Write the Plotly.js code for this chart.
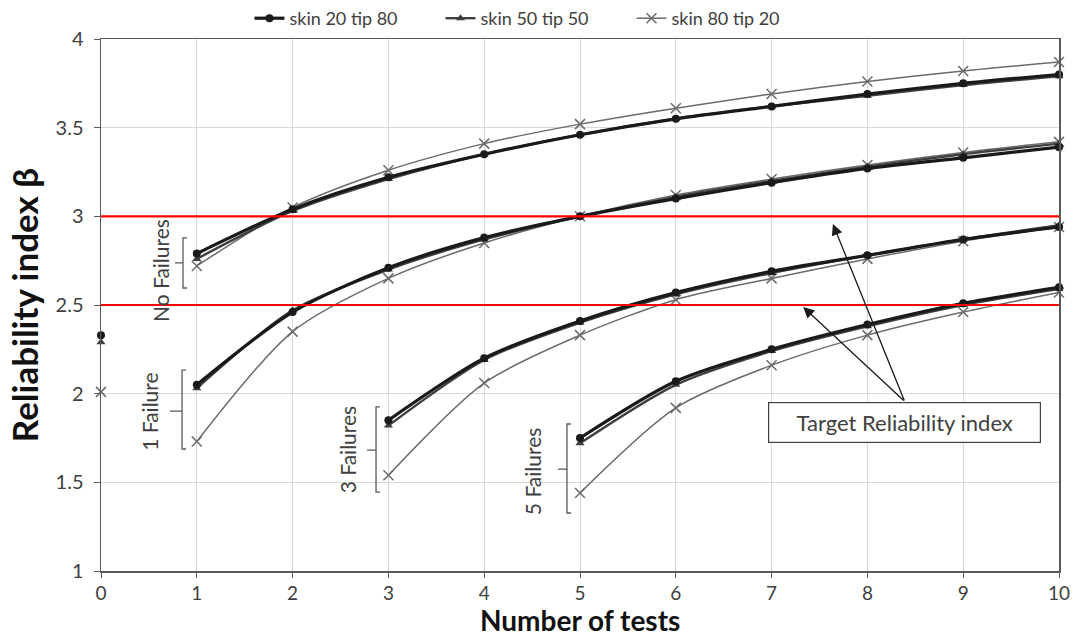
<!DOCTYPE html>
<html>
<head>
<meta charset="utf-8">
<script src="https://cdn.plot.ly/plotly-3.0.1.min.js"></script>
<style>html,body{margin:0;padding:0;background:#fff;}#chart{width:1081px;height:640px;}</style>
</head>
<body>
<div id="chart"></div>
<script>
// ---- data ----
const seriesNames = ["skin 20 tip 80", "skin 50 tip 50", "skin 80 tip 20"];
const xZero = [0];
const xNoFail = [1,2,3,4,5,6,7,8,9,10];
const x1Fail = [1,2,3,4,5,6,7,8,9,10];
const x3Fail = [3,4,5,6,7,8,9,10];
const x5Fail = [5,6,7,8,9,10];
const xTicks = [0,1,2,3,4,5,6,7,8,9,10];
const yTicks = [1,1.5,2,2.5,3,3.5,4];
const targetLevels = [2.5, 3.0];

// skin 20 tip 80
const s20_zero = [2.33];
const s20_noFail = [2.79,3.04,3.22,3.35,3.46,3.55,3.62,3.69,3.75,3.80];
const s20_1Fail = [2.05,2.46,2.71,2.88,3.00,3.10,3.19,3.27,3.33,3.39];
const s20_3Fail = [1.85,2.20,2.41,2.57,2.69,2.78,2.87,2.94];
const s20_5Fail = [1.75,2.07,2.25,2.39,2.51,2.60];
// skin 50 tip 50
const s50_zero = [2.29];
const s50_noFail = [2.76,3.03,3.21,3.35,3.46,3.55,3.62,3.68,3.74,3.79];
const s50_1Fail = [2.03,2.47,2.70,2.87,3.00,3.11,3.20,3.28,3.35,3.41];
const s50_3Fail = [1.82,2.19,2.40,2.56,2.68,2.78,2.87,2.95];
const s50_5Fail = [1.72,2.05,2.24,2.38,2.50,2.59];
// skin 80 tip 20
const s80_zero = [2.01];
const s80_noFail = [2.72,3.05,3.26,3.41,3.52,3.61,3.69,3.76,3.82,3.87];
const s80_1Fail = [1.73,2.35,2.65,2.85,3.00,3.12,3.21,3.29,3.36,3.42];
const s80_3Fail = [1.54,2.06,2.33,2.53,2.65,2.76,2.86,2.94];
const s80_5Fail = [1.44,1.92,2.16,2.33,2.46,2.57];

function join(groups){ const out=[]; groups.forEach((g,i)=>{ if(i>0) out.push(null); out.push(...g); }); return out; }
const xAll = join([xZero, xNoFail, x1Fail, x3Fail, x5Fail]);

const FONT = "Lato, 'Open Sans', 'Liberation Sans', sans-serif";

const styles = [
  {color:"#1a1a1a", width:3.2, symbol:"circle", size:8, mline:0},
  {color:"#3f3f3f", width:2.4, symbol:"triangle-up", size:8, mline:0},
  {color:"#6b6b6b", width:1.5, symbol:"x-thin-open", size:10, mline:1.5}
];
const ys = [
  join([s20_zero, s20_noFail, s20_1Fail, s20_3Fail, s20_5Fail]),
  join([s50_zero, s50_noFail, s50_1Fail, s50_3Fail, s50_5Fail]),
  join([s80_zero, s80_noFail, s80_1Fail, s80_3Fail, s80_5Fail])
];

const traces = [];
[2,1,0].forEach(i=>{
  const st = styles[i];
  traces.push({
    type:"scatter", mode:"lines+markers", name:seriesNames[i],
    x:xAll, y:ys[i], connectgaps:false, legendrank:i+1, cliponaxis:false,
    line:{color:st.color, width:st.width, shape:"spline", smoothing:0.8},
    marker:{symbol:st.symbol, size:st.size, color:st.color, line:{color:st.color, width:st.mline}},
    hoverinfo:"x+y"
  });
});

const shapes = targetLevels.map(v=>({type:"line", xref:"paper", x0:0, x1:1, yref:"y", y0:v, y1:v, line:{color:"#ff0000", width:2.2}, layer:"above"}));

// bracket shapes [x, top, bottom, mid, serifX, tickX]
const brackets = [
  [0.856, 2.878, 2.596, 2.737, 0.898, 0.772],
  [0.846, 2.133, 1.688, 1.902, 0.887, 0.720],
  [2.871, 1.925, 1.445, 1.682, 2.912, 2.777],
  [4.864, 1.829, 1.327, 1.575, 4.906, 4.770]
];
brackets.forEach(b=>{
  shapes.push({type:"path", xref:"x", yref:"y",
    path:`M ${b[4]},${b[1]} L ${b[0]},${b[1]} L ${b[0]},${b[2]} L ${b[4]},${b[2]} M ${b[0]},${b[3]} L ${b[5]},${b[3]}`,
    line:{color:"#595959", width:1.3}});
});

const groupLabels = [
  {text:"No Failures", x:0.615, y:2.697},
  {text:"1 Failure", x:0.51, y:1.897},
  {text:"3 Failures", x:2.57, y:1.682},
  {text:"5 Failures", x:4.50, y:1.558}
];
const annotations = groupLabels.map(g=>({text:g.text, x:g.x, y:g.y, xref:"x", yref:"y", showarrow:false, textangle:-90, font:{family:FONT, size:21, color:"#404040"}}));

annotations.push({text:"Target Reliability index", x:8.39, y:1.837, xref:"x", yref:"y", showarrow:false,
  font:{family:FONT, size:22, color:"#404040"}, bordercolor:"#404040", borderwidth:1.2, borderpad:6, bgcolor:"#ffffff", width:259});
annotations.push({text:"", x:7.64, y:2.957, xref:"x", yref:"y", showarrow:true, ax:72, ay:178, arrowhead:2, arrowsize:1.7, arrowwidth:1.3, arrowcolor:"#1a1a1a", standoff:0});
annotations.push({text:"", x:7.33, y:2.489, xref:"x", yref:"y", showarrow:true, ax:102, ay:95, arrowhead:2, arrowsize:1.7, arrowwidth:1.3, arrowcolor:"#1a1a1a", standoff:0});

// x-axis title drawn as an annotation just below the tick labels
annotations.push({text:"<b>Number of tests</b>", xref:"paper", x:0.5, yref:"paper", y:-0.127, yanchor:"bottom", showarrow:false,
  font:{family:FONT, size:28, color:"#111111"}});

const layout = {
  width:1081, height:640,
  margin:{l:101, r:22, t:39, b:69, autoexpand:false},
  paper_bgcolor:"#ffffff", plot_bgcolor:"#ffffff",
  font:{family:FONT, size:18, color:"#404040"},
  showlegend:true,
  legend:{orientation:"h", x:0.155, xanchor:"left", yref:"container", y:1.0, yanchor:"top", entrywidth:146, entrywidthmode:"pixels",
    font:{family:FONT, size:18, color:"#404040"}, bgcolor:"rgba(0,0,0,0)", traceorder:"normal"},
  xaxis:{range:[0,10], tickvals:xTicks, ticktext:xTicks.map(String), showgrid:true, gridcolor:"#d9d9d9", gridwidth:1,
    zeroline:false, showline:true, linecolor:"#595959", linewidth:1.5, mirror:true, automargin:false,
    ticks:"outside", ticklen:5, tickcolor:"#595959", tickfont:{family:FONT, size:19, color:"#404040"}},
  yaxis:{range:[1,4], tickvals:yTicks, ticktext:yTicks.map(v=>String(v)), showgrid:true, gridcolor:"#d9d9d9", gridwidth:1,
    zeroline:false, showline:true, linecolor:"#595959", linewidth:1.5, mirror:true, automargin:false,
    ticks:"outside", ticklen:6, tickcolor:"#595959", tickfont:{family:FONT, size:20, color:"#404040"}, ticklabelstandoff:6,
    title:{text:"<b>Reliability index β</b>", font:{family:FONT, size:35, color:"#111111"}, standoff:6}},
  shapes:shapes,
  annotations:annotations
};

Plotly.newPlot("chart", traces, layout, {displayModeBar:false, staticPlot:true});
</script>
</body>
</html>
